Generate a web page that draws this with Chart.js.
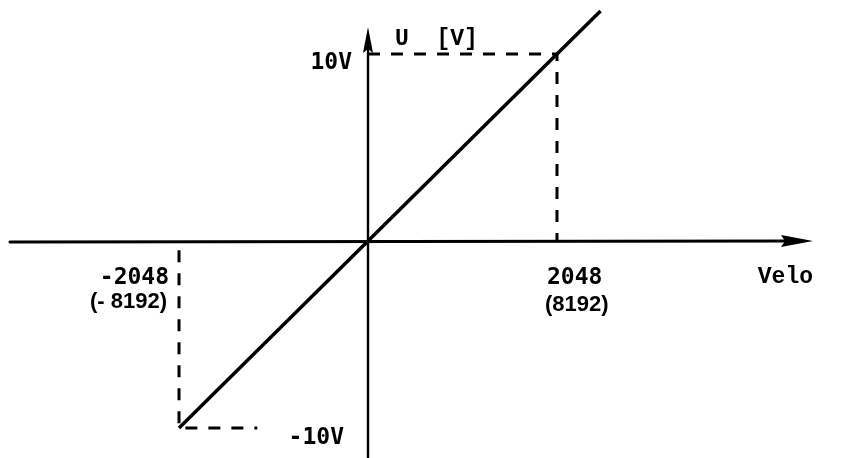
<!DOCTYPE html>
<html>
<head>
<meta charset="utf-8">
<script src="https://cdn.jsdelivr.net/npm/chart.js@4"></script>
<style>
  html, body { margin: 0; padding: 0; background: #fff; }
  #wrap { width: 852px; height: 458px; }
</style>
</head>
<body>
<div id="wrap"><canvas id="canvas_velo" width="852" height="458"></canvas></div>
<script>
// characteristic: velocity command -> analog output voltage
var velo = [-2048, 0, 2048, 2520];
var voltage = [-10, 0, 10, 12.3];

// dashed helper lines at +-2048 / +-10V
var guideTopX = [0, 2048, 2048];
var guideTopY = [10, 10, 0];
var guideBottomX = [-2048, -2048, -1200];
var guideBottomY = [-0.5, -10, -10];

var xTicks = [-2048, 2048];
var xTickLabels = ["-2048", "2048"];
var xSubLabels = ["(- 8192)", "(8192)"];
var yTicks = [10, -10];
var yTickLabels = ["10V", "-10V"];
var xTitle = "Velo";
var yTitle = "U  [V]";

function pts(xs, ys) {
    return xs.map(function (x, i) { return { x: x, y: ys[i] }; });
}

var ink = "#000";

var axesPlugin = {
    id: 'axes',
    beforeDatasetsDraw: function (chart) {
        var ctx = chart.ctx;
        var xs = chart.scales.x, ys = chart.scales.y;
        var x0 = xs.getPixelForValue(0), y0 = ys.getPixelForValue(0);
        ctx.save();
        ctx.strokeStyle = ink;
        ctx.fillStyle = ink;
        ctx.lineCap = 'round';
        // horizontal axis
        ctx.lineWidth = 3;
        ctx.beginPath();
        ctx.moveTo(10, y0 + 1);
        ctx.lineTo(790, y0);
        ctx.stroke();
        ctx.beginPath();
        ctx.moveTo(813, y0);
        ctx.lineTo(781, y0 - 6);
        ctx.lineTo(785, y0);
        ctx.lineTo(781, y0 + 6);
        ctx.closePath();
        ctx.fill();
        // vertical axis
        ctx.lineWidth = 2.4;
        ctx.beginPath();
        ctx.moveTo(x0, 458);
        ctx.lineTo(x0, 40);
        ctx.stroke();
        ctx.beginPath();
        ctx.moveTo(x0, 27);
        ctx.lineTo(x0 - 5, 53);
        ctx.lineTo(x0, 49);
        ctx.lineTo(x0 + 5, 53);
        ctx.closePath();
        ctx.fill();
        ctx.restore();
    },
    afterDatasetsDraw: function (chart) {
        var ctx = chart.ctx;
        var xs = chart.scales.x, ys = chart.scales.y;
        var x0 = xs.getPixelForValue(0), y0 = ys.getPixelForValue(0);
        ctx.save();
        ctx.fillStyle = ink;
        ctx.textBaseline = 'alphabetic';
        ctx.font = 'bold 23px "DejaVu Sans Mono"';
        // x tick labels
        ctx.textAlign = 'right';
        ctx.fillText(xTickLabels[0], xs.getPixelForValue(xTicks[0]) - 10, y0 + 43);
        ctx.textAlign = 'left';
        ctx.fillText(xTickLabels[1], xs.getPixelForValue(xTicks[1]) - 10, y0 + 43);
        // y tick labels
        ctx.textAlign = 'right';
        ctx.fillText(yTickLabels[0], x0 - 16, ys.getPixelForValue(yTicks[0]) + 15);
        ctx.fillText(yTickLabels[1], x0 - 24, ys.getPixelForValue(yTicks[1]) + 16);
        // axis titles
        ctx.font = 'bold 23px "Liberation Mono"';
        ctx.textAlign = 'right';
        ctx.fillText(xTitle, 813, y0 + 42);
        ctx.textAlign = 'left';
        ctx.fillText(yTitle, x0 + 27, 45);
        // hand written values
        ctx.font = 'bold 22px "Liberation Sans"';
        ctx.textAlign = 'right';
        ctx.fillText(xSubLabels[0], xs.getPixelForValue(xTicks[0]) - 12, y0 + 67);
        ctx.textAlign = 'left';
        ctx.fillText(xSubLabels[1], xs.getPixelForValue(xTicks[1]) - 12, y0 + 70);
        ctx.restore();
    }
};

var dashed = {
    borderColor: ink,
    borderWidth: 3,
    borderDash: [12, 11],
    pointRadius: 0,
    showLine: true,
    fill: false
};

var ctx = document.getElementById("canvas_velo");
var veloChart = new Chart(ctx, {
    type: 'scatter',
    data: {
        datasets: [
            {
                label: "U",
                data: pts(velo, voltage),
                borderColor: ink,
                borderWidth: 3.5,
                pointRadius: 0,
                showLine: true,
                fill: false
            },
            Object.assign({ label: "top", data: pts(guideTopX, guideTopY) }, dashed),
            Object.assign({ label: "bottom", data: pts(guideBottomX, guideBottomY) }, dashed)
        ]
    },
    options: {
        responsive: false,
        animation: false,
        layout: { padding: 0 },
        plugins: {
            legend: { display: false },
            tooltip: { enabled: false }
        },
        scales: {
            x: { type: 'linear', min: -3988, max: 5245, display: false },
            y: { type: 'linear', min: -11.604, max: 12.888, display: false }
        }
    },
    plugins: [axesPlugin]
});
</script>
</body>
</html>
